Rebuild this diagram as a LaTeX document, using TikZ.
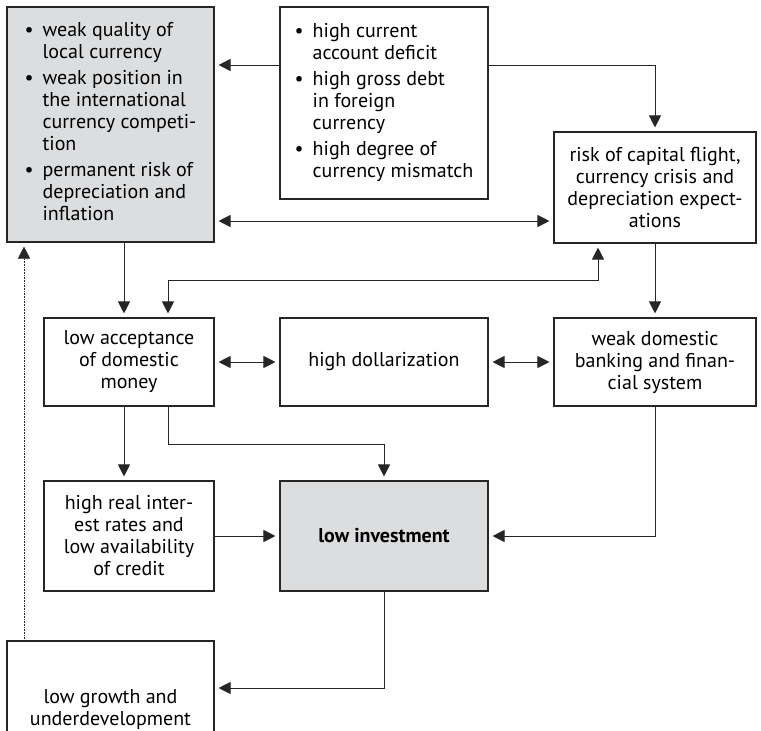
\documentclass[tikz,border=0pt]{standalone}
\usepackage{fontspec}
\setmainfont{PT Sans}
\usepackage{xcolor}
\usetikzlibrary{arrows.meta}
\definecolor{boxgray}{RGB}{220,221,223}

\begin{document}
\begin{tikzpicture}[x=1pt,y=-1pt,
    box/.style={draw=black!85, line width=1.1pt, inner sep=0pt, align=center,
      font=\fontsize{20}{22}\selectfont},
    arr/.style={draw=black!85, line width=1pt,
      -{Triangle[length=12pt,width=12pt]}, shorten >=4pt},
    dbl/.style={arr, {Triangle[length=12pt,width=12pt]}-{Triangle[length=12pt,width=12pt]},
      shorten <=4pt},
    ]
  \useasboundingbox (0,0) rectangle (761,731);
  \clip (0,0) rectangle (761,731);

  % top row
  \node[box, fill=boxgray, minimum width=207pt, minimum height=235pt] (curr) at (110.5,124.5)
    {\begin{tabular}{@{}l@{\hspace{9pt}}l@{}}
      \textbullet & weak quality of\\ & local currency\\[4pt]
      \textbullet & weak position in\\ & the international\\ & currency competi-\\ & tion\\[4pt]
      \textbullet & permanent risk of\\ & depreciation and\\ & inflation
    \end{tabular}};
  \node[box, minimum width=208pt, minimum height=192pt] (ext) at (384,103)
    {\begin{tabular}{@{}l@{\hspace{9pt}}l@{}}
      \textbullet & high current\\ & account deficit\\[4pt]
      \textbullet & high gross debt\\ & in foreign\\ & currency\\[4pt]
      \textbullet & high degree of\\ & currency mismatch
    \end{tabular}};
  \node[box, minimum width=202pt, minimum height=111pt] (risk) at (655,187.5)
    {risk of capital flight,\\ currency crisis and\\ depreciation expect-\\ ations};

  % middle row
  \node[box, minimum width=170pt, minimum height=88pt] (accept) at (129,362)
    {low acceptance\\ of domestic\\ money};
  \node[box, minimum width=208pt, minimum height=88pt] (dollar) at (384,362)
    {high dollarization};
  \node[box, minimum width=202pt, minimum height=88pt] (bank) at (655,362)
    {weak domestic\\ banking and finan-\\ cial system};

  % lower rows
  \node[box, minimum width=170pt, minimum height=110pt] (rates) at (129,536)
    {high real inter-\\ est rates and\\ low availability\\ of credit};
  \node[box, fill=boxgray, minimum width=208pt, minimum height=110pt] (invest) at (384,536)
    {\textbf{low investment}};
  \node[box, minimum width=207pt, minimum height=136pt] (growth) at (110.5,709)
    {low growth and\\ underdevelopment};

  % connectors
  \draw[arr] (ext.west |- 0,65) -- (curr.east |- 0,65);
  \draw[arr] (ext.east |- 0,65) -| (risk.north);
  \draw[dbl] (curr.east |- 0,221) -- (risk.west |- 0,221);
  \draw[arr] (curr.south -| 124,0) -- (accept.north -| 124,0);
  \draw[dbl] (accept.north -| 168,0) |- (598,280) -- (risk.south -| 598,0);
  \draw[arr] (risk.south) -- (bank.north);
  \draw[dbl] (accept.east) -- (dollar.west);
  \draw[dbl] (dollar.east) -- (bank.west);
  \draw[arr] (accept.south -| 124,0) -- (rates.north -| 124,0);
  \draw[arr] (accept.south -| 168,0) |- (invest.north |- 0,444) -- (invest.north);
  \draw[arr] (rates.east) -- (invest.west);
  \draw[arr] (bank.south) |- (invest.east);
  \draw[arr] (invest.south) |- (growth.east |- 0,688);
  \draw[arr, line width=0.6pt, densely dotted] (growth.north -| 24,0) -- (curr.south -| 24,0);
\end{tikzpicture}
\end{document}
